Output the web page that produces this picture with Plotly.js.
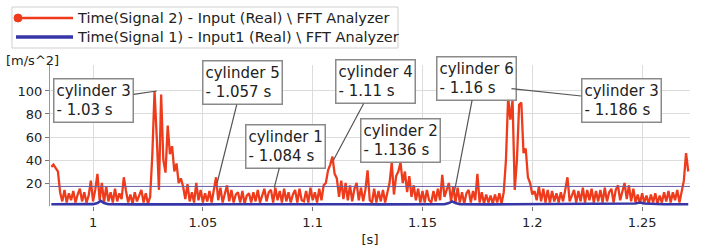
<!DOCTYPE html>
<html>
<head>
<meta charset="utf-8">
<script src="https://cdn.plot.ly/plotly-3.0.1.min.js"></script>
<style>html,body{margin:0;padding:0;background:#fff;}#chart{width:715px;height:250px;}</style>
</head>
<body>
<div id="chart"></div>
<script>
// ---- data ----
const seriesNames = [
  'Time(Signal 2) - Input (Real) \\ FFT Analyzer',
  'Time(Signal 1) - Input1 (Real) \\ FFT Analyzer'
];
const xAxisLabel = '[s]';
const yAxisLabel = '[m/s^2]';
const xTickVals = [1, 1.05, 1.1, 1.15, 1.2, 1.25];
const xTickText = ['1', '1.05', '1.1', '1.15', '1.2', '1.25'];
const yTickVals = [20, 40, 60, 80, 100];
const yTickText = ['20', '40', '60', '80', '100'];

// Signal 2 sampled every 1 ms starting at 0.981 s
const signal2Start = 0.981;
const signal2Step = 0.001;
const signal2Values = [
  34, 36, 33, 30, 12, 4, 14, 3, 11, 5,
  13, 3, 10, 15, 4, 12, 3, 9, 22, 4,
  14, 28, 5, 20, 3, 17, 4, 12, 3, 15,
  4, 11, 6, 25, 13, 3, 10, 2, 12, 4,
  9, 14, 3, 11, 2, 8, 45, 100, 60, 14,
  97, 40, 29, 70, 45, 52, 30, 37, 20, 24,
  17, 6, 19, 4, 12, 3, 20, 5, 14, 3,
  11, 4, 13, 3, 14, 25, 5, 16, 3, 11,
  18, 4, 14, 3, 10, 12, 3, 13, 2, 9,
  11, 3, 12, 4, 14, 3, 10, 15, 4, 12,
  14, 3, 16, 5, 13, 3, 15, 4, 12, 3,
  10, 14, 3, 15, 5, 4, 13, 3, 16, 5,
  12, 3, 15, 5, 18, 20, 31, 36, 43, 28,
  24, 8, 22, 6, 20, 5, 18, 4, 15, 20,
  5, 16, 4, 14, 31, 5, 3, 15, 3, 13,
  4, 14, 3, 12, 20, 38, 10, 26, 30, 38,
  20, 30, 12, 26, 8, 18, 5, 15, 3, 13,
  3, 14, 5, 3, 13, 4, 15, 5, 27, 8,
  14, 20, 4, 17, 3, 16, 3, 12, 2, 11,
  14, 3, 13, 5, 28, 3, 12, 2, 10, 3,
  9, 2, 10, 3, 11, 2, 12, 40, 95, 75,
  92, 14, 40, 88, 90, 46, 50, 25, 20, 10,
  13, 5, 17, 4, 15, 3, 14, 3, 13, 4,
  11, 3, 12, 4, 14, 25, 4, 10, 14, 3,
  13, 4, 16, 3, 14, 5, 15, 3, 13, 4,
  14, 3, 16, 4, 12, 15, 3, 14, 18, 5,
  14, 20, 6, 18, 4, 15, 3, 10, 2, 11,
  3, 9, 2, 10, 3, 11, 2, 9, 3, 12,
  4, 13, 3, 12, 5, 14, 3, 13, 22, 46, 30
];

// Signal 1 (low level)
const signal1Times = [0.981, 0.99, 1.0, 1.002, 1.0035, 1.005, 1.007, 1.02, 1.03, 1.04, 1.05, 1.06, 1.07, 1.08, 1.09, 1.1, 1.11, 1.12, 1.13, 1.14, 1.15, 1.16, 1.162, 1.1635, 1.165, 1.167, 1.18, 1.19, 1.2, 1.21, 1.22, 1.23, 1.24, 1.247, 1.249, 1.251, 1.26, 1.271];
const signal1Values = [1.5, 1.4, 1.6, 2.5, 4.5, 2.5, 1.5, 1.4, 1.6, 1.5, 1.4, 1.5, 1.6, 1.5, 1.4, 1.5, 1.6, 1.5, 1.4, 1.5, 1.6, 1.5, 2.5, 4, 2.5, 1.5, 1.4, 1.5, 1.6, 1.5, 1.4, 1.5, 1.6, 2.2, 3, 2.2, 1.5, 1.5];

const thresholdLevel = 17;

// Callouts: label text, pointed time/value, box-centre time/value
const calloutLabels = ['cylinder 3<br>- 1.03 s', 'cylinder 5<br>- 1.057 s', 'cylinder 1<br>- 1.084 s', 'cylinder 4<br>- 1.11 s', 'cylinder 2<br>- 1.136 s', 'cylinder 6<br>- 1.16 s', 'cylinder 3<br>- 1.186 s'];
const calloutX = [1.029, 1.0565, 1.0825, 1.1095, 1.136, 1.1645, 1.1905];
const calloutY = [100, 20, 16, 40, 38, 12, 102];
const calloutBoxX = [1.0003, 1.0679, 1.0874, 1.1285, 1.1398, 1.1745, 1.2404];
const calloutBoxY = [92, 107, 52, 108, 57, 111, 92];

// ---- build ----
const signal2Times = signal2Values.map((_, i) => +(signal2Start + i * signal2Step).toFixed(4));

const FONT = "'DejaVu Sans', Verdana, sans-serif";
const RED = '#ee3b1c';
const BLUE = '#3636a8';

const traces = [
  { x: signal2Times, y: signal2Values, type: 'scatter', mode: 'lines', name: seriesNames[0],
    line: { color: RED, width: 2.3 }, showlegend: false, hoverinfo: 'x+y' },
  { x: signal1Times, y: signal1Values, type: 'scatter', mode: 'lines', name: seriesNames[1],
    line: { color: BLUE, width: 2.6 }, showlegend: false, hoverinfo: 'x+y' }
];

// plot area in pixels: left 50, right 690, top 65, bottom 206
const PL = 50, PR = 690, PT = 65, PB = 206;
const px = v => (v - PL) / (PR - PL);
const py = v => (PB - v) / (PB - PT);

const annotations = calloutLabels.map((t, i) => ({
  text: t, x: calloutX[i], y: calloutY[i], xref: 'x', yref: 'y',
  ax: calloutBoxX[i], ay: calloutBoxY[i], axref: 'x', ayref: 'y',
  showarrow: true, arrowhead: 0, arrowwidth: 1.2, arrowcolor: '#555',
  align: 'left', bordercolor: '#8a8a8a', borderwidth: 1.5, borderpad: 2,
  bgcolor: 'rgba(255,255,255,0.95)',
  font: { family: FONT, size: 15, color: '#222' }
}));

// y-axis unit label
annotations.push({ text: yAxisLabel, xref: 'paper', yref: 'paper', x: px(4), y: py(60),
  xanchor: 'left', yanchor: 'middle', showarrow: false, font: { family: FONT, size: 13, color: '#222' } });

// custom legend text
annotations.push({ text: seriesNames[0], xref: 'paper', yref: 'paper', x: px(75), y: py(18),
  xanchor: 'left', yanchor: 'middle', showarrow: false, font: { family: FONT, size: 14.5, color: '#222' } });
annotations.push({ text: seriesNames[1], xref: 'paper', yref: 'paper', x: px(75), y: py(37),
  xanchor: 'left', yanchor: 'middle', showarrow: false, font: { family: FONT, size: 14.5, color: '#222' } });

const shapes = [
  // threshold line
  { type: 'line', xref: 'paper', yref: 'y', x0: 0, x1: 1, y0: thresholdLevel, y1: thresholdLevel,
    line: { color: '#6a5fa8', width: 1 }, layer: 'above' },
  // legend frame
  { type: 'rect', xref: 'paper', yref: 'paper', x0: px(12), x1: px(398), y0: py(48), y1: py(7),
    line: { color: '#cfcfcf', width: 1 }, fillcolor: 'rgba(0,0,0,0)' },
  // legend symbols
  { type: 'line', xref: 'paper', yref: 'paper', x0: px(16), x1: px(73), y0: py(18), y1: py(18),
    line: { color: RED, width: 2.5 } },
  { type: 'circle', xref: 'paper', yref: 'paper', x0: px(14), x1: px(22), y0: py(22), y1: py(14),
    line: { color: RED, width: 1 }, fillcolor: RED },
  { type: 'line', xref: 'paper', yref: 'paper', x0: px(16), x1: px(73), y0: py(37), y1: py(37),
    line: { color: BLUE, width: 3.5 } }
];

const layout = {
  width: 715, height: 250,
  margin: { l: PL, r: 715 - PR, t: PT, b: 250 - PB },
  paper_bgcolor: '#ffffff', plot_bgcolor: '#ffffff',
  showlegend: false,
  font: { family: FONT, size: 13, color: '#222' },
  xaxis: {
    range: [0.9804, 1.2718], tickvals: xTickVals, ticktext: xTickText,
    showgrid: true, gridcolor: '#dcdcdc', gridwidth: 1,
    zeroline: false, showline: false,
    ticks: 'outside', ticklen: 4, tickcolor: '#777',
    tickfont: { family: FONT, size: 13, color: '#222' },
    title: { text: xAxisLabel, font: { family: FONT, size: 13, color: '#222' }, standoff: 6 }
  },
  yaxis: {
    range: [0, 122.6], tickvals: yTickVals, ticktext: yTickText,
    showgrid: true, gridcolor: '#dcdcdc', gridwidth: 1,
    zeroline: false, showline: true, linecolor: '#999', linewidth: 1,
    ticks: 'outside', ticklen: 4, tickcolor: '#777',
    tickfont: { family: FONT, size: 13, color: '#222' }
  },
  annotations: annotations,
  shapes: shapes
};

Plotly.newPlot('chart', traces, layout, { staticPlot: true, displayModeBar: false });
</script>
</body>
</html>
